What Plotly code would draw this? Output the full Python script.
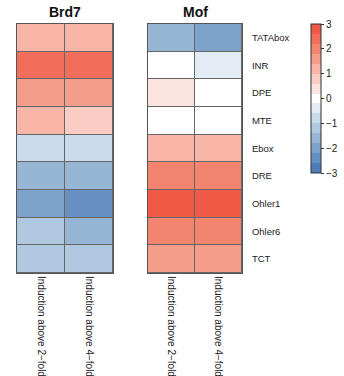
import plotly.graph_objects as go

rows = ["TATAbox", "INR", "DPE", "MTE", "Ebox", "DRE", "Ohler1", "Ohler6", "TCT"]
cols = ["Induction above 2\u2212fold", "Induction above 4\u2212fold"]

brd7_2fold = [1.2, 2.4, 1.6, 1.2, -0.8, -1.6, -2.0, -1.2, -1.2]
brd7_4fold = [1.2, 2.4, 1.6, 0.8, -0.8, -1.6, -2.4, -1.6, -1.2]
mof_2fold = [-1.6, 0.0, 0.4, 0.0, 1.2, 2.0, 2.8, 2.0, 1.6]
mof_4fold = [-2.0, -0.4, 0.0, 0.0, 1.2, 2.0, 2.8, 2.0, 1.6]

cbar_ticks = [-3, -2, -1, 0, 1, 2, 3]
cbar_text = ["\u22123", "\u22122", "\u22121", "0", "1", "2", "3"]

band_colors = ["#4C7DB4", "#6590BF", "#7EA3CA", "#97B6D5", "#B0C9E0", "#CADCEB", "#E3ECF4",
               "#FFFFFF",
               "#FCE4E0", "#FACCC4", "#F8B5A8", "#F59D8B", "#F3846F", "#F06E5A", "#EE5A45"]

n = len(band_colors)
colorscale = []
for i, c in enumerate(band_colors):
    colorscale.append([i / n, c])
    colorscale.append([(i + 1) / n, c])

brd7 = [[a, b] for a, b in zip(brd7_2fold, brd7_4fold)]
mof = [[a, b] for a, b in zip(mof_2fold, mof_4fold)]

W, H = 344, 376
font = "Liberation Sans, Arial, Helvetica, sans-serif"

fig = go.Figure()
fig.add_trace(go.Heatmap(z=brd7, x=cols, y=rows, colorscale=colorscale, zmin=-3, zmax=3,
                         xgap=1, ygap=1, showscale=False, xaxis="x", yaxis="y"))
fig.add_trace(go.Heatmap(z=mof, x=cols, y=rows, colorscale=colorscale, zmin=-3, zmax=3,
                         xgap=1, ygap=1, xaxis="x2", yaxis="y2",
                         colorbar=dict(x=311 / W, xanchor="left", y=1 - 24 / H, yanchor="top",
                                       len=(173 - 24) / H, lenmode="fraction", thickness=10,
                                       xpad=0, ypad=0,
                                       outlinecolor="#333333", outlinewidth=1,
                                       tickvals=cbar_ticks, ticktext=cbar_text,
                                       ticks="outside", ticklen=3, tickcolor="#333333",
                                       tickfont=dict(size=10, color="#222222", family=font))))

ytop = 1 - 24 / H
ybot = 1 - 273 / H
axis_common = dict(showline=True, mirror=True, linecolor="#555555", linewidth=1,
                   showgrid=False, zeroline=False, automargin=False)
fig.update_layout(
    width=W, height=H, margin=dict(l=0, r=0, t=0, b=0, autoexpand=False),
    paper_bgcolor="white", plot_bgcolor="#666666",
    font=dict(family=font, color="#222222"),
    xaxis=dict(domain=[17 / W, 113 / W], anchor="y", tickangle=90, ticks="",
               ticklabelstandoff=0, tickfont=dict(size=10), **axis_common),
    yaxis=dict(domain=[ybot, ytop], anchor="x", autorange="reversed", showticklabels=False,
               ticks="", **axis_common),
    xaxis2=dict(domain=[148 / W, 242 / W], anchor="y2", tickangle=90, ticks="",
                ticklabelstandoff=0, tickfont=dict(size=10), **axis_common),
    yaxis2=dict(domain=[ybot, ytop], anchor="x2", autorange="reversed", side="right",
                ticks="", ticklabelstandoff=7, tickfont=dict(size=9.5), **axis_common),
    annotations=[
        dict(text="<b>Brd7</b>", x=65 / W, y=1 - 12 / H, xref="paper", yref="paper",
             xanchor="center", yanchor="middle",
             showarrow=False, font=dict(size=14, color="#111111")),
        dict(text="<b>Mof</b>", x=195 / W, y=1 - 12 / H, xref="paper", yref="paper",
             xanchor="center", yanchor="middle",
             showarrow=False, font=dict(size=14, color="#111111")),
    ],
)

fig.write_html("out.html")
